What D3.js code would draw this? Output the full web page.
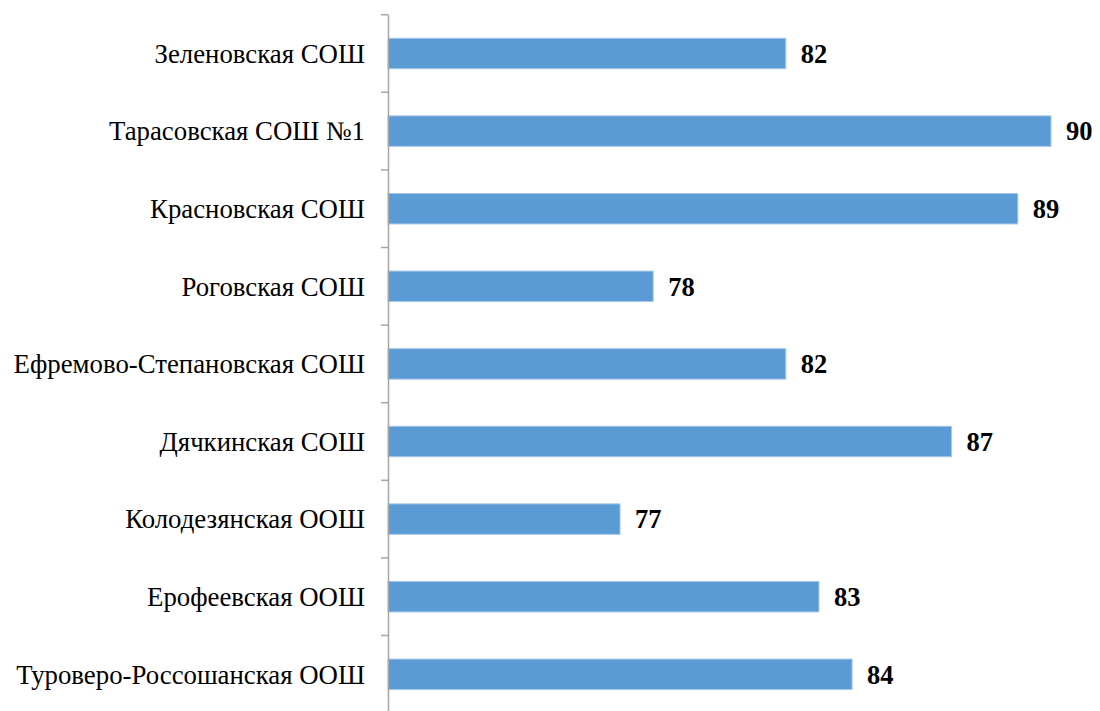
<!DOCTYPE html>
<html><head><meta charset="utf-8">
<script src="https://cdn.jsdelivr.net/npm/d3@7"></script>
<style>body{margin:0;background:#fff}svg{display:block}</style>
</head><body>
<script>
const categories = ["Зеленовская СОШ","Тарасовская СОШ №1","Красновская СОШ","Роговская СОШ","Ефремово-Степановская СОШ","Дячкинская СОШ","Колодезянская ООШ","Ерофеевская ООШ","Туроверо-Россошанская ООШ"];
const values = [82,90,89,78,82,87,77,83,84];
const xDomain = [70,90];

const W=1100,H=711;
const svg=d3.select("body").append("svg").attr("width",W).attr("height",H);
const x=d3.scaleLinear().domain(xDomain).range([388,1051]);
const y=d3.scaleBand().domain(categories).range([14.7,14.7+77.6*9]).paddingInner(0.607).paddingOuter(0.3035);
const step=y.step();

// bars
svg.selectAll("rect.bar").data(values).join("rect").attr("class","bar")
 .attr("x",x(xDomain[0])).attr("y",(d,i)=>y(categories[i]))
 .attr("width",d=>x(d)-x(xDomain[0])).attr("height",y.bandwidth())
 .attr("fill","#5b9bd5").attr("stroke","#a9c8e8").attr("stroke-width",1);

// axis line & ticks
svg.append("line").attr("x1",388.5).attr("x2",388.5).attr("y1",14.7).attr("y2",H).attr("stroke","#a6a6a6").attr("stroke-width",1.5);
const bounds=d3.range(0,categories.length+1).map(i=>14.7+i*step);
svg.selectAll("line.tk").data(bounds).join("line").attr("class","tk")
 .attr("x1",381).attr("x2",388).attr("y1",d=>d).attr("y2",d=>d).attr("stroke","#a6a6a6").attr("stroke-width",1.5);

// category labels
svg.selectAll("text.cat").data(categories).join("text").attr("class","cat")
 .attr("x",365).attr("y",c=>y(c)+y.bandwidth()/2).attr("dy","0.35em")
 .attr("text-anchor","end").attr("font-family","'Liberation Serif','Times New Roman',serif").attr("font-size",26.8)
 .attr("fill","#000").style("white-space","pre").text(d=>d);

// value labels
svg.selectAll("text.val").data(values).join("text").attr("class","val")
 .attr("x",d=>x(d)+15).attr("y",(d,i)=>y(categories[i])+y.bandwidth()/2).attr("dy","0.35em")
 .attr("font-family","'Liberation Serif','Times New Roman',serif").attr("font-size",26.5).attr("font-weight","bold")
 .attr("fill","#000").text(d=>d);
</script>
</body></html>
